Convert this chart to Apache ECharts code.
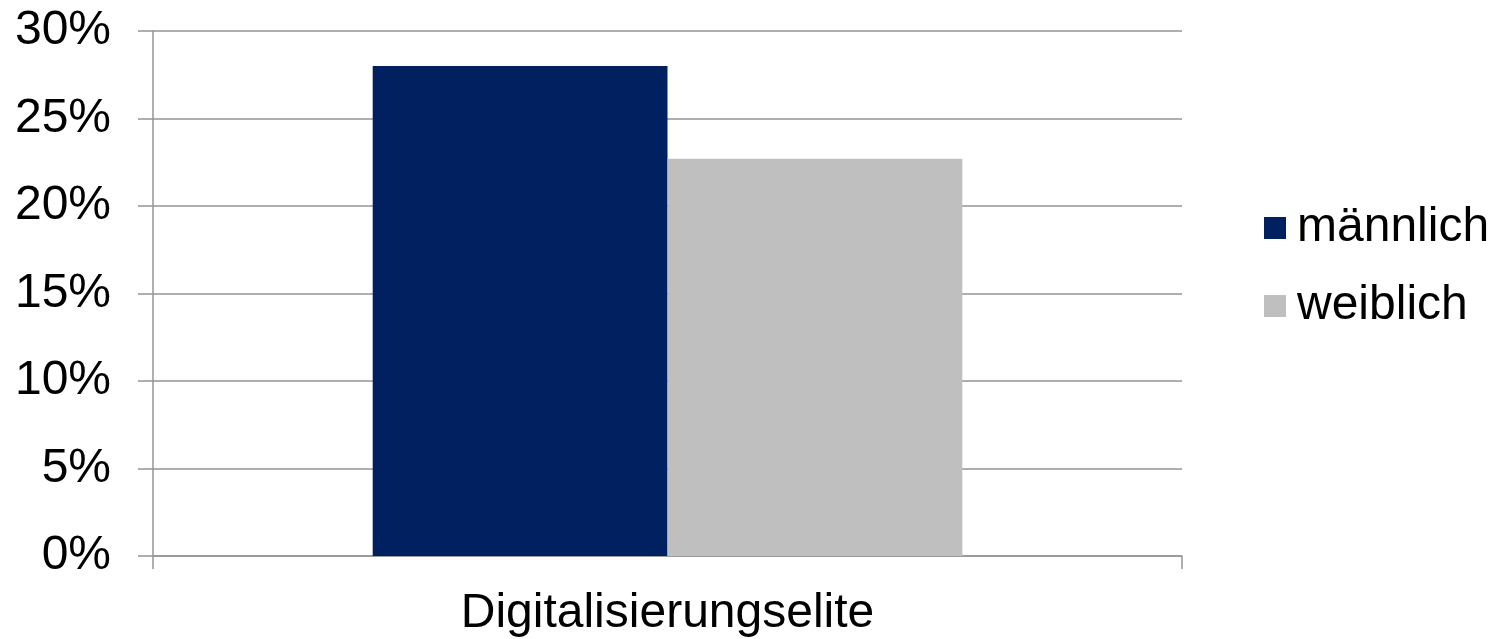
<!DOCTYPE html>
<html>
<head>
<meta charset="utf-8">
<script src="https://cdn.jsdelivr.net/npm/echarts@6/dist/echarts.min.js"></script>
<style>html,body{margin:0;padding:0;background:#fff;}#c{width:1499px;height:639px;}</style>
</head>
<body>
<div id="c"></div>
<script>
const categories = ['Digitalisierungselite'];
const seriesNames = ['männlich', 'weiblich'];
const maleValues = [28.0];
const femaleValues = [22.7];
const yTicks = [0, 5, 10, 15, 20, 25, 30];

const chart = echarts.init(document.getElementById('c'), null, {renderer: 'canvas'});
const font = '"Liberation Sans", Arial, sans-serif';
chart.setOption({
  animation: false,
  backgroundColor: '#ffffff',
  grid: {left: 153, right: 317, top: 31, bottom: 83, containLabel: false},
  legend: {
    orient: 'vertical',
    left: 1259,
    top: 195,
    icon: 'rect',
    itemWidth: 22,
    itemHeight: 22,
    itemGap: 22,
    data: seriesNames,
    textStyle: {fontFamily: font, fontSize: 48, color: '#000', lineHeight: 56, padding: [0, 0, 0, 6]}
  },
  xAxis: {
    type: 'category',
    data: categories,
    axisLine: {show: true, lineStyle: {color: '#959595', width: 1.5}},
    axisTick: {show: true, length: 13, lineStyle: {color: '#959595', width: 1.5}},
    axisLabel: {fontFamily: font, fontSize: 48, color: '#000', margin: 34}
  },
  yAxis: {
    type: 'value',
    min: yTicks[0],
    max: yTicks[yTicks.length - 1],
    interval: 5,
    axisLine: {show: true, lineStyle: {color: '#959595', width: 1.5}},
    axisTick: {show: true, length: 15, lineStyle: {color: '#959595', width: 1.5}},
    splitLine: {show: true, lineStyle: {color: '#959595', width: 1.5}},
    axisLabel: {fontFamily: font, fontSize: 48, color: '#000', margin: 42, formatter: v => v + '%'}
  },
  series: [
    {name: seriesNames[0], type: 'bar', data: maleValues, itemStyle: {color: '#002060'}, barGap: '0%', barCategoryGap: '42.7%'},
    {name: seriesNames[1], type: 'bar', data: femaleValues, itemStyle: {color: '#bfbfbf'}, barGap: '0%', barCategoryGap: '42.7%'}
  ]
});
</script>
</body>
</html>
